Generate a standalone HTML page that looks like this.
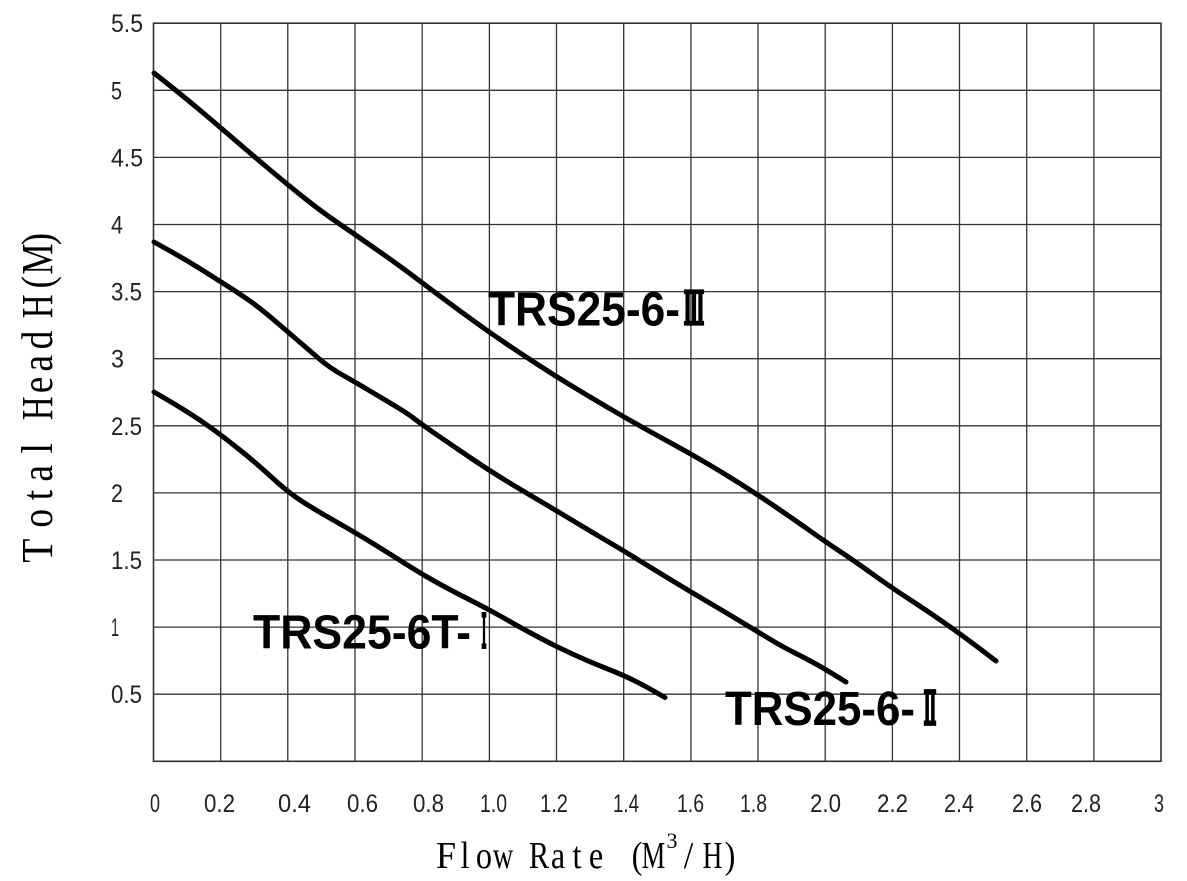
<!DOCTYPE html>
<html>
<head>
<meta charset="utf-8">
<style>
  html,body{margin:0;padding:0;background:#fff;}
  svg{display:block;}
  .tk{font-family:"Liberation Sans",sans-serif;font-size:25px;fill:#222;}
  .lb{font-family:"Liberation Sans",sans-serif;font-weight:bold;font-size:48px;fill:#000;}
  .rn{font-family:"Noto Serif CJK SC","Noto Sans CJK SC",serif;font-weight:bold;font-size:44px;fill:#000;stroke:#000;stroke-width:3.2;}
  .ti{font-family:"Liberation Serif","Noto Serif CJK SC",serif;fill:#000;}
</style>
</head>
<body>
<svg width="1187" height="881" viewBox="0 0 1187 881" xmlns="http://www.w3.org/2000/svg">
  <rect x="0" y="0" width="1187" height="881" fill="#fff"/>
  <!-- grid -->
  <g stroke="#333" stroke-width="1.3" fill="none">
    <line x1="220.7" y1="23.2" x2="220.7" y2="761.3"/>
    <line x1="287.8" y1="23.2" x2="287.8" y2="761.3"/>
    <line x1="355.0" y1="23.2" x2="355.0" y2="761.3"/>
    <line x1="422.2" y1="23.2" x2="422.2" y2="761.3"/>
    <line x1="489.4" y1="23.2" x2="489.4" y2="761.3"/>
    <line x1="556.5" y1="23.2" x2="556.5" y2="761.3"/>
    <line x1="623.7" y1="23.2" x2="623.7" y2="761.3"/>
    <line x1="690.9" y1="23.2" x2="690.9" y2="761.3"/>
    <line x1="758.0" y1="23.2" x2="758.0" y2="761.3"/>
    <line x1="825.2" y1="23.2" x2="825.2" y2="761.3"/>
    <line x1="892.4" y1="23.2" x2="892.4" y2="761.3"/>
    <line x1="959.5" y1="23.2" x2="959.5" y2="761.3"/>
    <line x1="1026.7" y1="23.2" x2="1026.7" y2="761.3"/>
    <line x1="1093.9" y1="23.2" x2="1093.9" y2="761.3"/>
    <line x1="153.5" y1="694.2" x2="1161" y2="694.2"/>
    <line x1="153.5" y1="627.1" x2="1161" y2="627.1"/>
    <line x1="153.5" y1="560.0" x2="1161" y2="560.0"/>
    <line x1="153.5" y1="492.9" x2="1161" y2="492.9"/>
    <line x1="153.5" y1="425.8" x2="1161" y2="425.8"/>
    <line x1="153.5" y1="358.7" x2="1161" y2="358.7"/>
    <line x1="153.5" y1="291.6" x2="1161" y2="291.6"/>
    <line x1="153.5" y1="224.5" x2="1161" y2="224.5"/>
    <line x1="153.5" y1="157.4" x2="1161" y2="157.4"/>
    <line x1="153.5" y1="90.3" x2="1161" y2="90.3"/>
  </g>
  <rect x="153.5" y="23.2" width="1007.5" height="738.1" fill="none" stroke="#333" stroke-width="1.6"/>

  <!-- curves -->
  <g fill="none" stroke="#000" stroke-width="5" stroke-linecap="round" stroke-linejoin="round">
    <path d="M154,73 L171,86.5 Q188,100 204.5,114 Q221,128 235.5,140.5 Q250,153 269,169 Q288,185 305,198.5 Q322,212 338.5,223.25 Q355,234.5 377.5,250.25 Q400,266 416.5,278.5 Q433,291 446.5,301 Q460,311 474.5,321.5 Q489,332 506,343.5 Q523,355 540,366 Q557,377 573.5,387 Q590,397 607,407 Q624,417 641,426.5 Q658,436 674.5,445 Q691,454 708,464 Q725,474 741.5,484.5 Q758,495 775,506.5 Q792,518 808.5,529.75 Q825,541.5 839,550.75 Q853,560 872.5,574 Q892,588 909,599 Q926,610 942.75,621.65 Q959.5,633.3 977.75,647.15 L996,661"/>
    <path d="M154,242 L171,251.5 Q188,261 204.5,271.5 Q221,282 229,287 Q237,292 248.5,300 Q260,308 274,320 Q288,332 299,341.5 Q310,351 320,359.5 Q330,368 342.5,375 Q355,382 367.5,389.5 Q380,397 393.5,405 Q407,413 414.75,419 Q422.5,425 439.25,436.5 Q456,448 473,459.5 Q490,471 506.5,481 Q523,491 540,501 Q557,511 573.5,521 Q590,531 607,541 Q624,551 641,561.5 Q658,572 674.5,582 Q691,592 708,602 Q725,612 741.5,622 Q758,632 770.5,639.5 Q783,647 794,652.5 Q805,658 815,663.5 Q825,669 835.5,675.5 L846,682"/>
    <path d="M154,392 L166,399 Q178,406 189,413 Q200,420 210.5,427.5 Q221,435 235.5,446.5 Q250,458 258.5,465.5 Q267,473 277.5,482.5 Q288,492 300,500 Q312,508 334,520.5 Q356,533 373,543.5 Q390,554 406.5,564.5 Q423,575 439.5,584 Q456,593 473,601.5 Q490,610 506.5,619.5 Q523,629 540,638 Q557,647 573.5,654.5 Q590,662 606.5,668.5 Q623,675 634,680.5 Q645,686 655,691.75 L665,697.5"/>
  </g>

  <!-- curve labels -->
  <text class="lb" x="488" y="325.7" textLength="192" lengthAdjust="spacingAndGlyphs">TRS25-6-</text>
  <text class="rn" x="684" y="324" textLength="20" lengthAdjust="spacingAndGlyphs">Ⅲ</text>
  <text class="lb" x="253" y="648.3" textLength="218" lengthAdjust="spacingAndGlyphs">TRS25-6T-</text>
  <text class="rn" x="479" y="647" textLength="10" lengthAdjust="spacingAndGlyphs" style="stroke-width:4">Ⅰ</text>
  <text class="lb" x="725" y="725" textLength="190" lengthAdjust="spacingAndGlyphs">TRS25-6-</text>
  <text class="rn" x="922" y="724" textLength="16" lengthAdjust="spacingAndGlyphs" style="stroke-width:3.8">Ⅱ</text>

  <!-- y tick labels -->
  <text class="tk" x="111" y="32.2" textLength="32" lengthAdjust="spacingAndGlyphs">5.5</text>
  <text class="tk" x="111" y="99.3" textLength="11" lengthAdjust="spacingAndGlyphs">5</text>
  <text class="tk" x="111" y="166.4" textLength="32" lengthAdjust="spacingAndGlyphs">4.5</text>
  <text class="tk" x="111" y="233.5" textLength="12" lengthAdjust="spacingAndGlyphs">4</text>
  <text class="tk" x="111" y="300.6" textLength="31" lengthAdjust="spacingAndGlyphs">3.5</text>
  <text class="tk" x="111" y="367.7" textLength="13" lengthAdjust="spacingAndGlyphs">3</text>
  <text class="tk" x="111" y="434.8" textLength="31" lengthAdjust="spacingAndGlyphs">2.5</text>
  <text class="tk" x="111" y="501.9" textLength="12" lengthAdjust="spacingAndGlyphs">2</text>
  <text class="tk" x="111" y="569.0" textLength="31" lengthAdjust="spacingAndGlyphs">1.5</text>
  <text class="tk" x="111" y="636.1" textLength="8" lengthAdjust="spacingAndGlyphs">1</text>
  <text class="tk" x="111" y="703.2" textLength="31" lengthAdjust="spacingAndGlyphs">0.5</text>

  <!-- x tick labels -->
  <text class="tk" x="150" y="812" textLength="10" lengthAdjust="spacingAndGlyphs">0</text>
  <text class="tk" x="204" y="812" textLength="31" lengthAdjust="spacingAndGlyphs">0.2</text>
  <text class="tk" x="278" y="812" textLength="33" lengthAdjust="spacingAndGlyphs">0.4</text>
  <text class="tk" x="347" y="812" textLength="31" lengthAdjust="spacingAndGlyphs">0.6</text>
  <text class="tk" x="413" y="812" textLength="31" lengthAdjust="spacingAndGlyphs">0.8</text>
  <text class="tk" x="480" y="812" textLength="27" lengthAdjust="spacingAndGlyphs">1.0</text>
  <text class="tk" x="540" y="812" textLength="28" lengthAdjust="spacingAndGlyphs">1.2</text>
  <text class="tk" x="613" y="812" textLength="26" lengthAdjust="spacingAndGlyphs">1.4</text>
  <text class="tk" x="677" y="812" textLength="27" lengthAdjust="spacingAndGlyphs">1.6</text>
  <text class="tk" x="740" y="812" textLength="27" lengthAdjust="spacingAndGlyphs">1.8</text>
  <text class="tk" x="810" y="812" textLength="31" lengthAdjust="spacingAndGlyphs">2.0</text>
  <text class="tk" x="877" y="812" textLength="31" lengthAdjust="spacingAndGlyphs">2.2</text>
  <text class="tk" x="944" y="812" textLength="30" lengthAdjust="spacingAndGlyphs">2.4</text>
  <text class="tk" x="1012" y="812" textLength="30" lengthAdjust="spacingAndGlyphs">2.6</text>
  <text class="tk" x="1071" y="812" textLength="30" lengthAdjust="spacingAndGlyphs">2.8</text>
  <text class="tk" x="1154" y="812" textLength="10" lengthAdjust="spacingAndGlyphs">3</text>

  <!-- y axis title (rotated, per-character monospace cells) -->
  <g class="ti" font-size="44" text-anchor="middle" transform="translate(52,568) rotate(-90)">
    <text transform="translate(17.3,0) scale(0.9,1)">T</text>
    <text transform="translate(49.7,0) scale(0.85,1)">o</text>
    <text transform="translate(73,0) scale(0.85,1)">t</text>
    <text transform="translate(94.7,0) scale(0.85,1)">a</text>
    <text transform="translate(119.7,0) scale(0.85,1)">l</text>
    <text transform="translate(159.7,0) scale(0.75,1)">H</text>
    <text transform="translate(183,0) scale(0.85,1)">e</text>
    <text transform="translate(204.7,0) scale(0.85,1)">a</text>
    <text transform="translate(228,0) scale(0.85,1)">d</text>
    <text transform="translate(261.7,0) scale(0.75,1)">H</text>
    <text transform="translate(285.7,0) scale(0.85,1)">(</text>
    <text transform="translate(309,0) scale(0.8,1)">M</text>
    <text transform="translate(329,0) scale(0.85,1)">)</text>
  </g>

  <!-- x axis title -->
  <g class="ti" font-size="38" text-anchor="middle">
    <text transform="translate(446,868) scale(0.95,1)">F</text>
    <text transform="translate(465,868) scale(0.85,1)">l</text>
    <text transform="translate(484,868) scale(0.85,1)">o</text>
    <text transform="translate(503,868) scale(0.75,1)">w</text>
    <text transform="translate(539,868) scale(0.8,1)">R</text>
    <text transform="translate(558,868) scale(0.85,1)">a</text>
    <text transform="translate(577,868) scale(0.85,1)">t</text>
    <text transform="translate(596,868) scale(0.85,1)">e</text>
    <text transform="translate(637,868) scale(0.85,1)">(</text>
    <text transform="translate(653.5,868) scale(0.7,1)">M</text>
    <text transform="translate(672,848)" font-size="22">3</text>
    <text transform="translate(688.5,868) scale(0.9,1)">/</text>
    <text transform="translate(712.5,868) scale(0.72,1)">H</text>
    <text transform="translate(730,868) scale(0.85,1)">)</text>
  </g>
</svg>
</body>
</html>
